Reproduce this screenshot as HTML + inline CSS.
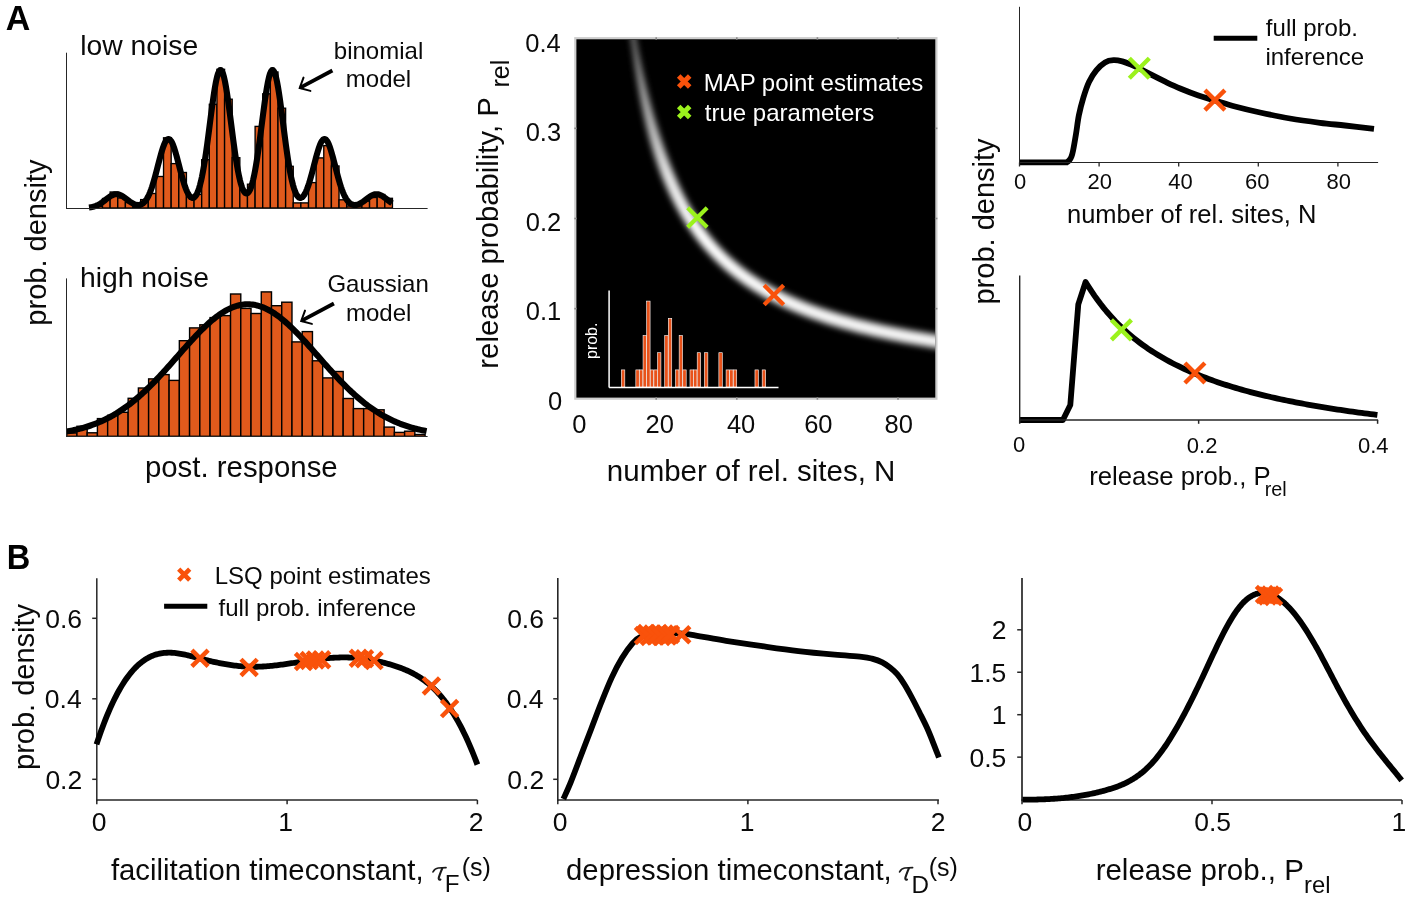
<!DOCTYPE html>
<html><head><meta charset="utf-8"><style>html,body{margin:0;padding:0;background:#fff;overflow:hidden}svg{display:block;will-change:transform}text{font-family:"Liberation Sans",sans-serif}</style></head>
<body><svg width="1411" height="899" viewBox="0 0 1411 899" font-family='"Liberation Sans", sans-serif'><defs><filter id="blur" x="-50%" y="-50%" width="200%" height="200%"><feGaussianBlur stdDeviation="3.4"/></filter><clipPath id="hc"><rect x="576.4" y="39.900000000000006" width="358.90000000000003" height="357.6"/></clipPath></defs><rect width="1411" height="899" fill="#fff"/><text x="5.75" y="30.4" font-size="34" fill="#000" font-weight="bold" transform="translate(0,30.4) scale(1,1.04) translate(0,-30.4)">A</text>
<text x="6.72" y="568.6" font-size="32.6" fill="#000" font-weight="bold" transform="translate(0,568.6) scale(1,1.075) translate(0,-568.6)">B</text>
<rect x="94.87" y="206.5" width="7.63" height="1.5" fill="#E05A1C" stroke="#000" stroke-width="1"/>
<rect x="102.5" y="198.5" width="7.63" height="9.5" fill="#E05A1C" stroke="#000" stroke-width="1.35"/>
<rect x="110.13" y="192" width="7.63" height="16" fill="#E05A1C" stroke="#000" stroke-width="1.35"/>
<rect x="117.76" y="198" width="7.63" height="10" fill="#E05A1C" stroke="#000" stroke-width="1.35"/>
<rect x="125.39" y="202.5" width="7.63" height="5.5" fill="#E05A1C" stroke="#000" stroke-width="1.35"/>
<rect x="133.02" y="206.7" width="7.63" height="1.3" fill="#E05A1C" stroke="#000" stroke-width="1.35"/>
<rect x="140.65" y="199.6" width="7.63" height="8.4" fill="#E05A1C" stroke="#000" stroke-width="1.35"/>
<rect x="148.28" y="193.5" width="7.63" height="14.5" fill="#E05A1C" stroke="#000" stroke-width="1.35"/>
<rect x="155.91" y="176.5" width="7.63" height="31.5" fill="#E05A1C" stroke="#000" stroke-width="1.35"/>
<rect x="163.54" y="137.8" width="7.63" height="70.2" fill="#E05A1C" stroke="#000" stroke-width="1.35"/>
<rect x="171.17" y="163.6" width="7.63" height="44.4" fill="#E05A1C" stroke="#000" stroke-width="1.35"/>
<rect x="178.8" y="172.5" width="7.63" height="35.5" fill="#E05A1C" stroke="#000" stroke-width="1.35"/>
<rect x="186.43" y="195.2" width="7.63" height="12.8" fill="#E05A1C" stroke="#000" stroke-width="1.35"/>
<rect x="194.06" y="194.4" width="7.63" height="13.6" fill="#E05A1C" stroke="#000" stroke-width="1.35"/>
<rect x="201.69" y="159.7" width="7.63" height="48.3" fill="#E05A1C" stroke="#000" stroke-width="1.35"/>
<rect x="209.32" y="104.3" width="7.63" height="103.7" fill="#E05A1C" stroke="#000" stroke-width="1.35"/>
<rect x="216.95" y="69.3" width="7.63" height="138.7" fill="#E05A1C" stroke="#000" stroke-width="1.35"/>
<rect x="224.58" y="99.2" width="7.63" height="108.8" fill="#E05A1C" stroke="#000" stroke-width="1.35"/>
<rect x="232.21" y="157.7" width="7.63" height="50.3" fill="#E05A1C" stroke="#000" stroke-width="1.35"/>
<rect x="239.84" y="190.1" width="7.63" height="17.9" fill="#E05A1C" stroke="#000" stroke-width="1.35"/>
<rect x="247.47" y="184.2" width="7.63" height="23.8" fill="#E05A1C" stroke="#000" stroke-width="1.35"/>
<rect x="255.1" y="126.4" width="7.63" height="81.6" fill="#E05A1C" stroke="#000" stroke-width="1.35"/>
<rect x="262.73" y="93.8" width="7.63" height="114.2" fill="#E05A1C" stroke="#000" stroke-width="1.35"/>
<rect x="270.36" y="72" width="7.63" height="136" fill="#E05A1C" stroke="#000" stroke-width="1.35"/>
<rect x="277.99" y="108.2" width="7.63" height="99.8" fill="#E05A1C" stroke="#000" stroke-width="1.35"/>
<rect x="285.62" y="166.3" width="7.63" height="41.7" fill="#E05A1C" stroke="#000" stroke-width="1.35"/>
<rect x="293.25" y="202.9" width="7.63" height="5.1" fill="#E05A1C" stroke="#000" stroke-width="1.35"/>
<rect x="300.88" y="202.9" width="7.63" height="5.1" fill="#E05A1C" stroke="#000" stroke-width="1.35"/>
<rect x="308.51" y="182.6" width="7.63" height="25.4" fill="#E05A1C" stroke="#000" stroke-width="1.35"/>
<rect x="316.14" y="157.9" width="7.63" height="50.1" fill="#E05A1C" stroke="#000" stroke-width="1.35"/>
<rect x="323.77" y="145.6" width="7.63" height="62.4" fill="#E05A1C" stroke="#000" stroke-width="1.35"/>
<rect x="331.4" y="166" width="7.63" height="42" fill="#E05A1C" stroke="#000" stroke-width="1.35"/>
<rect x="339.03" y="199.8" width="7.63" height="8.2" fill="#E05A1C" stroke="#000" stroke-width="1.35"/>
<rect x="346.66" y="206" width="7.63" height="2" fill="#E05A1C" stroke="#000" stroke-width="1.35"/>
<rect x="354.29" y="206" width="7.63" height="2" fill="#E05A1C" stroke="#000" stroke-width="1.35"/>
<rect x="361.92" y="201.2" width="7.63" height="6.8" fill="#E05A1C" stroke="#000" stroke-width="1.35"/>
<rect x="369.55" y="197.5" width="7.63" height="10.5" fill="#E05A1C" stroke="#000" stroke-width="1.35"/>
<rect x="377.18" y="194.5" width="7.63" height="13.5" fill="#E05A1C" stroke="#000" stroke-width="1.35"/>
<rect x="384.81" y="198.3" width="7.63" height="9.7" fill="#E05A1C" stroke="#000" stroke-width="1.35"/>
<polyline points="89,207.49 90,207.36 91,207.19 92,207 93,206.76 94,206.49 95,206.17 96,205.8 97,205.38 98,204.9 99,204.38 100,203.8 101,203.17 102,202.49 103,201.77 104,201.03 105,200.25 106,199.47 107,198.7 108,197.93 109,197.21 110,196.53 111,195.91 112,195.37 113,194.92 114,194.57 115,194.33 116,194.21 117,194.21 118,194.33 119,194.57 120,194.92 121,195.36 122,195.9 123,196.52 124,197.19 125,197.92 126,198.67 127,199.44 128,200.2 129,200.95 130,201.67 131,202.34 132,202.96 133,203.52 134,204 135,204.39 136,204.69 137,204.89 138,204.98 139,204.94 140,204.78 141,204.46 142,203.98 143,203.33 144,202.48 145,201.42 146,200.13 147,198.6 148,196.81 149,194.75 150,192.42 151,189.81 152,186.93 153,183.79 154,180.42 155,176.85 156,173.11 157,169.26 158,165.36 159,161.47 160,157.67 161,154.03 162,150.62 163,147.54 164,144.84 165,142.59 166,140.86 167,139.67 168,139.07 169,139.07 170,139.67 171,140.85 172,142.59 173,144.83 174,147.53 175,150.61 176,154 177,157.64 178,161.42 179,165.29 180,169.17 181,172.97 182,176.66 183,180.16 184,183.43 185,186.43 186,189.12 187,191.5 188,193.52 189,195.18 190,196.46 191,197.35 192,197.84 193,197.91 194,197.54 195,196.72 196,195.43 197,193.64 198,191.33 199,188.48 200,185.07 201,181.09 202,176.53 203,171.39 204,165.69 205,159.47 206,152.76 207,145.63 208,138.18 209,130.49 210,122.7 211,114.93 212,107.32 213,100.05 214,93.24 215,87.07 216,81.68 217,77.19 218,73.71 219,71.35 220,70.15 221,70.15 222,71.35 223,73.71 224,77.18 225,81.67 226,87.07 227,93.24 228,100.03 229,107.31 230,114.9 231,122.66 232,130.44 233,138.1 234,145.53 235,152.61 236,159.26 237,165.41 238,171.01 239,176.02 240,180.41 241,184.17 242,187.3 243,189.79 244,191.65 245,192.89 246,193.51 247,193.51 248,192.89 249,191.65 250,189.79 251,187.3 252,184.17 253,180.41 254,176.02 255,171.01 256,165.41 257,159.26 258,152.61 259,145.53 260,138.1 261,130.44 262,122.66 263,114.9 264,107.31 265,100.03 266,93.24 267,87.07 268,81.67 269,77.18 270,73.71 271,71.35 272,70.15 273,70.15 274,71.35 275,73.71 276,77.19 277,81.68 278,87.07 279,93.24 280,100.05 281,107.32 282,114.93 283,122.7 284,130.49 285,138.18 286,145.63 287,152.76 288,159.47 289,165.69 290,171.39 291,176.53 292,181.09 293,185.07 294,188.48 295,191.33 296,193.64 297,195.43 298,196.72 299,197.54 300,197.91 301,197.84 302,197.35 303,196.46 304,195.18 305,193.52 306,191.5 307,189.12 308,186.43 309,183.43 310,180.16 311,176.66 312,172.97 313,169.17 314,165.29 315,161.42 316,157.64 317,154 318,150.61 319,147.53 320,144.83 321,142.59 322,140.85 323,139.67 324,139.07 325,139.07 326,139.67 327,140.86 328,142.59 329,144.84 330,147.54 331,150.62 332,154.03 333,157.67 334,161.47 335,165.36 336,169.26 337,173.11 338,176.85 339,180.42 340,183.79 341,186.93 342,189.81 343,192.42 344,194.75 345,196.81 346,198.6 347,200.13 348,201.42 349,202.48 350,203.33 351,203.98 352,204.46 353,204.78 354,204.94 355,204.98 356,204.89 357,204.69 358,204.39 359,204 360,203.52 361,202.96 362,202.34 363,201.67 364,200.95 365,200.2 366,199.44 367,198.67 368,197.92 369,197.19 370,196.52 371,195.9 372,195.36 373,194.92 374,194.57 375,194.33 376,194.21 377,194.21 378,194.33 379,194.57 380,194.92 381,195.37 382,195.91 383,196.53 384,197.21 385,197.93 386,198.7 387,199.47 388,200.25 389,201.03 390,201.77 391,202.49 392,203.17" fill="none" stroke="#000" stroke-width="6.1" stroke-linejoin="round"/>
<line x1="66.5" y1="52.7" x2="66.5" y2="209" stroke="#262626" stroke-width="1.05"/>
<line x1="66" y1="208.5" x2="427.6" y2="208.5" stroke="#262626" stroke-width="1.05"/>
<text x="80.29" y="55.3" font-size="28.3" fill="#0a0a0a">low noise</text>
<text x="333.84" y="59.1" font-size="24" fill="#0a0a0a">binomial</text>
<text x="345.82" y="87.4" font-size="24" fill="#0a0a0a">model</text>
<line x1="332.4" y1="70.5" x2="300.3" y2="87.7" stroke="#000" stroke-width="3.8"/>
<path d="M303.5,77.6 L299.7,88 L310.4,90.9" fill="none" stroke="#000" stroke-width="2" stroke-linecap="round" stroke-linejoin="miter"/>
<rect x="66.7" y="433" width="10.24" height="3.3" fill="#E05A1C" stroke="#000" stroke-width="1.4"/>
<rect x="76.94" y="426.3" width="10.24" height="10" fill="#E05A1C" stroke="#000" stroke-width="1.4"/>
<rect x="87.18" y="432.8" width="10.24" height="3.5" fill="#E05A1C" stroke="#000" stroke-width="1.4"/>
<rect x="97.42" y="418.6" width="10.24" height="17.7" fill="#E05A1C" stroke="#000" stroke-width="1.4"/>
<rect x="107.66" y="415.3" width="10.24" height="21" fill="#E05A1C" stroke="#000" stroke-width="1.4"/>
<rect x="117.9" y="412.3" width="10.24" height="24" fill="#E05A1C" stroke="#000" stroke-width="1.4"/>
<rect x="128.14" y="398.3" width="10.24" height="38" fill="#E05A1C" stroke="#000" stroke-width="1.4"/>
<rect x="138.38" y="388" width="10.24" height="48.3" fill="#E05A1C" stroke="#000" stroke-width="1.4"/>
<rect x="148.62" y="378.9" width="10.24" height="57.4" fill="#E05A1C" stroke="#000" stroke-width="1.4"/>
<rect x="158.86" y="374.6" width="10.24" height="61.7" fill="#E05A1C" stroke="#000" stroke-width="1.4"/>
<rect x="169.1" y="380.4" width="10.24" height="55.9" fill="#E05A1C" stroke="#000" stroke-width="1.4"/>
<rect x="179.34" y="340.7" width="10.24" height="95.6" fill="#E05A1C" stroke="#000" stroke-width="1.4"/>
<rect x="189.58" y="327.9" width="10.24" height="108.4" fill="#E05A1C" stroke="#000" stroke-width="1.4"/>
<rect x="199.82" y="324.8" width="10.24" height="111.5" fill="#E05A1C" stroke="#000" stroke-width="1.4"/>
<rect x="210.06" y="317.6" width="10.24" height="118.7" fill="#E05A1C" stroke="#000" stroke-width="1.4"/>
<rect x="220.3" y="315.6" width="10.24" height="120.7" fill="#E05A1C" stroke="#000" stroke-width="1.4"/>
<rect x="230.54" y="294" width="10.24" height="142.3" fill="#E05A1C" stroke="#000" stroke-width="1.4"/>
<rect x="240.78" y="308.4" width="10.24" height="127.9" fill="#E05A1C" stroke="#000" stroke-width="1.4"/>
<rect x="251.02" y="313.5" width="10.24" height="122.8" fill="#E05A1C" stroke="#000" stroke-width="1.4"/>
<rect x="261.26" y="291.9" width="10.24" height="144.4" fill="#E05A1C" stroke="#000" stroke-width="1.4"/>
<rect x="271.5" y="305.7" width="10.24" height="130.6" fill="#E05A1C" stroke="#000" stroke-width="1.4"/>
<rect x="281.74" y="302.2" width="10.24" height="134.1" fill="#E05A1C" stroke="#000" stroke-width="1.4"/>
<rect x="291.98" y="341.9" width="10.24" height="94.4" fill="#E05A1C" stroke="#000" stroke-width="1.4"/>
<rect x="302.22" y="331.6" width="10.24" height="104.7" fill="#E05A1C" stroke="#000" stroke-width="1.4"/>
<rect x="312.46" y="360.8" width="10.24" height="75.5" fill="#E05A1C" stroke="#000" stroke-width="1.4"/>
<rect x="322.7" y="377.9" width="10.24" height="58.4" fill="#E05A1C" stroke="#000" stroke-width="1.4"/>
<rect x="332.94" y="371.5" width="10.24" height="64.8" fill="#E05A1C" stroke="#000" stroke-width="1.4"/>
<rect x="343.18" y="398.5" width="10.24" height="37.8" fill="#E05A1C" stroke="#000" stroke-width="1.4"/>
<rect x="353.42" y="408.6" width="10.24" height="27.7" fill="#E05A1C" stroke="#000" stroke-width="1.4"/>
<rect x="363.66" y="408.6" width="10.24" height="27.7" fill="#E05A1C" stroke="#000" stroke-width="1.4"/>
<rect x="373.9" y="409.8" width="10.24" height="26.5" fill="#E05A1C" stroke="#000" stroke-width="1.4"/>
<rect x="384.14" y="427.1" width="10.24" height="9.2" fill="#E05A1C" stroke="#000" stroke-width="1.4"/>
<rect x="394.38" y="432.4" width="10.24" height="3.9" fill="#E05A1C" stroke="#000" stroke-width="1.4"/>
<rect x="404.62" y="431.2" width="10.24" height="5.1" fill="#E05A1C" stroke="#000" stroke-width="1.4"/>
<rect x="414.86" y="434.5" width="10.24" height="1.8" fill="#E05A1C" stroke="#000" stroke-width="1.4"/>
<polyline points="66.6,431.55 68.1,431.29 69.6,431.01 71.1,430.71 72.6,430.41 74.1,430.09 75.6,429.75 77.1,429.4 78.6,429.03 80.1,428.65 81.6,428.26 83.1,427.84 84.6,427.41 86.1,426.96 87.6,426.49 89.1,426 90.6,425.5 92.1,424.97 93.6,424.42 95.1,423.86 96.6,423.27 98.1,422.66 99.6,422.03 101.1,421.38 102.6,420.7 104.1,420 105.6,419.27 107.1,418.53 108.6,417.76 110.1,416.96 111.6,416.14 113.1,415.29 114.6,414.42 116.1,413.52 117.6,412.59 119.1,411.64 120.6,410.66 122.1,409.66 123.6,408.63 125.1,407.57 126.6,406.49 128.1,405.38 129.6,404.24 131.1,403.07 132.6,401.88 134.1,400.66 135.6,399.42 137.1,398.15 138.6,396.85 140.1,395.53 141.6,394.18 143.1,392.81 144.6,391.42 146.1,390 147.6,388.55 149.1,387.09 150.6,385.6 152.1,384.1 153.6,382.57 155.1,381.02 156.6,379.45 158.1,377.87 159.6,376.27 161.1,374.65 162.6,373.02 164.1,371.38 165.6,369.72 167.1,368.05 168.6,366.37 170.1,364.69 171.6,362.99 173.1,361.29 174.6,359.59 176.1,357.88 177.6,356.17 179.1,354.46 180.6,352.75 182.1,351.05 183.6,349.35 185.1,347.66 186.6,345.97 188.1,344.3 189.6,342.64 191.1,340.99 192.6,339.35 194.1,337.73 195.6,336.14 197.1,334.56 198.6,333 200.1,331.47 201.6,329.96 203.1,328.48 204.6,327.04 206.1,325.62 207.6,324.23 209.1,322.88 210.6,321.56 212.1,320.29 213.6,319.05 215.1,317.85 216.6,316.69 218.1,315.58 219.6,314.52 221.1,313.5 222.6,312.52 224.1,311.6 225.6,310.73 227.1,309.91 228.6,309.14 230.1,308.42 231.6,307.76 233.1,307.16 234.6,306.61 236.1,306.12 237.6,305.68 239.1,305.31 240.6,304.99 242.1,304.73 243.6,304.54 245.1,304.4 246.6,304.32 248.1,304.3 249.6,304.34 251.1,304.45 252.6,304.61 254.1,304.83 255.6,305.11 257.1,305.45 258.6,305.85 260.1,306.31 261.6,306.82 263.1,307.39 264.6,308.02 266.1,308.7 267.6,309.44 269.1,310.23 270.6,311.07 272.1,311.96 273.6,312.91 275.1,313.9 276.6,314.94 278.1,316.02 279.6,317.15 281.1,318.32 282.6,319.54 284.1,320.79 285.6,322.09 287.1,323.42 288.6,324.78 290.1,326.18 291.6,327.61 293.1,329.07 294.6,330.56 296.1,332.08 297.6,333.62 299.1,335.19 300.6,336.77 302.1,338.38 303.6,340 305.1,341.64 306.6,343.3 308.1,344.97 309.6,346.65 311.1,348.33 312.6,350.03 314.1,351.73 315.6,353.44 317.1,355.14 318.6,356.85 320.1,358.56 321.6,360.27 323.1,361.97 324.6,363.67 326.1,365.36 327.6,367.04 329.1,368.72 330.6,370.38 332.1,372.04 333.6,373.68 335.1,375.3 336.6,376.91 338.1,378.51 339.6,380.08 341.1,381.64 342.6,383.18 344.1,384.7 345.6,386.2 347.1,387.68 348.6,389.13 350.1,390.57 351.6,391.98 353.1,393.36 354.6,394.73 356.1,396.06 357.6,397.37 359.1,398.66 360.6,399.92 362.1,401.15 363.6,402.36 365.1,403.54 366.6,404.7 368.1,405.82 369.6,406.92 371.1,408 372.6,409.04 374.1,410.06 375.6,411.06 377.1,412.03 378.6,412.97 380.1,413.88 381.6,414.77 383.1,415.63 384.6,416.47 386.1,417.28 387.6,418.07 389.1,418.83 390.6,419.57 392.1,420.28 393.6,420.97 395.1,421.64 396.6,422.28 398.1,422.91 399.6,423.51 401.1,424.09 402.6,424.65 404.1,425.18 405.6,425.7 407.1,426.2 408.6,426.68 410.1,427.14 411.6,427.58 413.1,428.01 414.6,428.42 416.1,428.81 417.6,429.18 419.1,429.54 420.6,429.89 422.1,430.22 423.6,430.53 425.1,430.83 426.6,431.12" fill="none" stroke="#000" stroke-width="6.1" stroke-linejoin="round"/>
<line x1="66.5" y1="278.4" x2="66.5" y2="437" stroke="#262626" stroke-width="1.05"/>
<line x1="66" y1="436.5" x2="427.6" y2="436.5" stroke="#262626" stroke-width="1.05"/>
<text x="79.94" y="286.8" font-size="28.3" fill="#0a0a0a">high noise</text>
<text x="327.38" y="292.1" font-size="24" fill="#0a0a0a">Gaussian</text>
<text x="346.02" y="321.3" font-size="24" fill="#0a0a0a">model</text>
<line x1="333.9" y1="303.5" x2="301.8" y2="320.7" stroke="#000" stroke-width="3.8"/>
<path d="M305,310.6 L301.2,321 L311.9,323.9" fill="none" stroke="#000" stroke-width="2" stroke-linecap="round" stroke-linejoin="miter"/>
<text transform="translate(45.6,325.63) rotate(-90)" font-size="29" fill="#0a0a0a">prob. density</text>
<text x="144.91" y="476.5" font-size="29.4" fill="#0a0a0a">post. response</text>
<rect x="575.3" y="38.2" width="361.1" height="360.5" fill="#000" stroke="#cdcdcd" stroke-width="2.2"/>
<g clip-path="url(#hc)"><g filter="url(#blur)"><line x1="632.5" y1="32.63" x2="632.95" y2="35.57" stroke="rgb(128,128,128)" stroke-width="4.58" stroke-linecap="round"/><line x1="632.95" y1="35.57" x2="633.41" y2="38.51" stroke="rgb(128,128,128)" stroke-width="4.64" stroke-linecap="round"/><line x1="633.41" y1="38.51" x2="633.87" y2="41.45" stroke="rgb(129,129,129)" stroke-width="4.7" stroke-linecap="round"/><line x1="633.87" y1="41.45" x2="634.34" y2="44.39" stroke="rgb(129,129,129)" stroke-width="4.76" stroke-linecap="round"/><line x1="634.34" y1="44.39" x2="634.82" y2="47.32" stroke="rgb(130,130,130)" stroke-width="4.82" stroke-linecap="round"/><line x1="634.82" y1="47.32" x2="635.31" y2="50.26" stroke="rgb(130,130,130)" stroke-width="4.88" stroke-linecap="round"/><line x1="635.31" y1="50.26" x2="635.8" y2="53.19" stroke="rgb(131,131,131)" stroke-width="5.02" stroke-linecap="round"/><line x1="635.8" y1="53.19" x2="636.31" y2="56.12" stroke="rgb(133,133,133)" stroke-width="5.24" stroke-linecap="round"/><line x1="636.31" y1="56.12" x2="636.82" y2="59.05" stroke="rgb(135,135,135)" stroke-width="5.45" stroke-linecap="round"/><line x1="636.82" y1="59.05" x2="637.34" y2="61.98" stroke="rgb(136,136,136)" stroke-width="5.66" stroke-linecap="round"/><line x1="637.34" y1="61.98" x2="637.87" y2="64.91" stroke="rgb(138,138,138)" stroke-width="5.87" stroke-linecap="round"/><line x1="637.87" y1="64.91" x2="638.41" y2="67.84" stroke="rgb(140,140,140)" stroke-width="6.08" stroke-linecap="round"/><line x1="638.41" y1="67.84" x2="638.96" y2="70.76" stroke="rgb(142,142,142)" stroke-width="6.29" stroke-linecap="round"/><line x1="638.96" y1="70.76" x2="639.51" y2="73.68" stroke="rgb(144,144,144)" stroke-width="6.5" stroke-linecap="round"/><line x1="639.51" y1="73.68" x2="640.08" y2="76.6" stroke="rgb(145,145,145)" stroke-width="6.71" stroke-linecap="round"/><line x1="640.08" y1="76.6" x2="640.66" y2="79.52" stroke="rgb(147,147,147)" stroke-width="6.92" stroke-linecap="round"/><line x1="640.66" y1="79.52" x2="641.25" y2="82.43" stroke="rgb(149,149,149)" stroke-width="7.13" stroke-linecap="round"/><line x1="641.25" y1="82.43" x2="641.84" y2="85.35" stroke="rgb(151,151,151)" stroke-width="7.34" stroke-linecap="round"/><line x1="641.84" y1="85.35" x2="642.45" y2="88.26" stroke="rgb(153,153,153)" stroke-width="7.55" stroke-linecap="round"/><line x1="642.45" y1="88.26" x2="643.07" y2="91.16" stroke="rgb(154,154,154)" stroke-width="7.76" stroke-linecap="round"/><line x1="643.07" y1="91.16" x2="643.7" y2="94.07" stroke="rgb(156,156,156)" stroke-width="7.97" stroke-linecap="round"/><line x1="643.7" y1="94.07" x2="644.35" y2="96.97" stroke="rgb(158,158,158)" stroke-width="8.18" stroke-linecap="round"/><line x1="644.35" y1="96.97" x2="645" y2="99.87" stroke="rgb(160,160,160)" stroke-width="8.39" stroke-linecap="round"/><line x1="645" y1="99.87" x2="645.67" y2="102.77" stroke="rgb(162,162,162)" stroke-width="8.58" stroke-linecap="round"/><line x1="645.67" y1="102.77" x2="646.34" y2="105.66" stroke="rgb(164,164,164)" stroke-width="8.75" stroke-linecap="round"/><line x1="646.34" y1="105.66" x2="647.04" y2="108.55" stroke="rgb(166,166,166)" stroke-width="8.93" stroke-linecap="round"/><line x1="647.04" y1="108.55" x2="647.74" y2="111.44" stroke="rgb(168,168,168)" stroke-width="9.1" stroke-linecap="round"/><line x1="647.74" y1="111.44" x2="648.46" y2="114.32" stroke="rgb(170,170,170)" stroke-width="9.27" stroke-linecap="round"/><line x1="648.46" y1="114.32" x2="649.19" y2="117.2" stroke="rgb(172,172,172)" stroke-width="9.45" stroke-linecap="round"/><line x1="649.19" y1="117.2" x2="649.94" y2="120.08" stroke="rgb(174,174,174)" stroke-width="9.62" stroke-linecap="round"/><line x1="649.94" y1="120.08" x2="650.7" y2="122.95" stroke="rgb(176,176,176)" stroke-width="9.79" stroke-linecap="round"/><line x1="650.7" y1="122.95" x2="651.48" y2="125.82" stroke="rgb(178,178,178)" stroke-width="9.96" stroke-linecap="round"/><line x1="651.48" y1="125.82" x2="652.27" y2="128.68" stroke="rgb(180,180,180)" stroke-width="10.13" stroke-linecap="round"/><line x1="652.27" y1="128.68" x2="653.07" y2="131.54" stroke="rgb(182,182,182)" stroke-width="10.31" stroke-linecap="round"/><line x1="653.07" y1="131.54" x2="653.9" y2="134.39" stroke="rgb(184,184,184)" stroke-width="10.48" stroke-linecap="round"/><line x1="653.9" y1="134.39" x2="654.74" y2="137.24" stroke="rgb(186,186,186)" stroke-width="10.65" stroke-linecap="round"/><line x1="654.74" y1="137.24" x2="655.59" y2="140.08" stroke="rgb(188,188,188)" stroke-width="10.82" stroke-linecap="round"/><line x1="655.59" y1="140.08" x2="656.47" y2="142.92" stroke="rgb(190,190,190)" stroke-width="10.95" stroke-linecap="round"/><line x1="656.47" y1="142.92" x2="657.36" y2="145.76" stroke="rgb(193,193,193)" stroke-width="11.04" stroke-linecap="round"/><line x1="657.36" y1="145.76" x2="658.27" y2="148.58" stroke="rgb(196,196,196)" stroke-width="11.13" stroke-linecap="round"/><line x1="658.27" y1="148.58" x2="659.2" y2="151.4" stroke="rgb(199,199,199)" stroke-width="11.22" stroke-linecap="round"/><line x1="659.2" y1="151.4" x2="660.15" y2="154.22" stroke="rgb(202,202,202)" stroke-width="11.3" stroke-linecap="round"/><line x1="660.15" y1="154.22" x2="661.11" y2="157.02" stroke="rgb(204,204,204)" stroke-width="11.39" stroke-linecap="round"/><line x1="661.11" y1="157.02" x2="662.1" y2="159.82" stroke="rgb(207,207,207)" stroke-width="11.48" stroke-linecap="round"/><line x1="662.1" y1="159.82" x2="663.11" y2="162.61" stroke="rgb(210,210,210)" stroke-width="11.57" stroke-linecap="round"/><line x1="663.11" y1="162.61" x2="664.14" y2="165.4" stroke="rgb(213,213,213)" stroke-width="11.66" stroke-linecap="round"/><line x1="664.14" y1="165.4" x2="665.19" y2="168.17" stroke="rgb(216,216,216)" stroke-width="11.75" stroke-linecap="round"/><line x1="665.19" y1="168.17" x2="666.27" y2="170.94" stroke="rgb(218,218,218)" stroke-width="11.83" stroke-linecap="round"/><line x1="666.27" y1="170.94" x2="667.37" y2="173.7" stroke="rgb(221,221,221)" stroke-width="11.92" stroke-linecap="round"/><line x1="667.37" y1="173.7" x2="668.49" y2="176.45" stroke="rgb(224,224,224)" stroke-width="12.01" stroke-linecap="round"/><line x1="668.49" y1="176.45" x2="669.63" y2="179.19" stroke="rgb(227,227,227)" stroke-width="12.09" stroke-linecap="round"/><line x1="669.63" y1="179.19" x2="670.8" y2="181.92" stroke="rgb(228,228,228)" stroke-width="12.11" stroke-linecap="round"/><line x1="670.8" y1="181.92" x2="672" y2="184.63" stroke="rgb(229,229,229)" stroke-width="12.12" stroke-linecap="round"/><line x1="672" y1="184.63" x2="673.22" y2="187.34" stroke="rgb(231,231,231)" stroke-width="12.13" stroke-linecap="round"/><line x1="673.22" y1="187.34" x2="674.46" y2="190.03" stroke="rgb(232,232,232)" stroke-width="12.13" stroke-linecap="round"/><line x1="674.46" y1="190.03" x2="675.73" y2="192.71" stroke="rgb(233,233,233)" stroke-width="12.14" stroke-linecap="round"/><line x1="675.73" y1="192.71" x2="677.04" y2="195.38" stroke="rgb(234,234,234)" stroke-width="12.15" stroke-linecap="round"/><line x1="677.04" y1="195.38" x2="678.36" y2="198.04" stroke="rgb(235,235,235)" stroke-width="12.16" stroke-linecap="round"/><line x1="678.36" y1="198.04" x2="679.72" y2="200.68" stroke="rgb(237,237,237)" stroke-width="12.17" stroke-linecap="round"/><line x1="679.72" y1="200.68" x2="681.11" y2="203.3" stroke="rgb(238,238,238)" stroke-width="12.18" stroke-linecap="round"/><line x1="681.11" y1="203.3" x2="682.52" y2="205.91" stroke="rgb(239,239,239)" stroke-width="12.19" stroke-linecap="round"/><line x1="682.52" y1="205.91" x2="683.96" y2="208.51" stroke="rgb(240,240,240)" stroke-width="12.19" stroke-linecap="round"/><line x1="683.96" y1="208.51" x2="685.44" y2="211.08" stroke="rgb(241,241,241)" stroke-width="12.2" stroke-linecap="round"/><line x1="685.44" y1="211.08" x2="686.95" y2="213.64" stroke="rgb(242,242,242)" stroke-width="12.21" stroke-linecap="round"/><line x1="686.95" y1="213.64" x2="688.48" y2="216.18" stroke="rgb(244,244,244)" stroke-width="12.22" stroke-linecap="round"/><line x1="688.48" y1="216.18" x2="690.05" y2="218.7" stroke="rgb(245,245,245)" stroke-width="12.23" stroke-linecap="round"/><line x1="690.05" y1="218.7" x2="691.65" y2="221.21" stroke="rgb(246,246,246)" stroke-width="12.24" stroke-linecap="round"/><line x1="691.65" y1="221.21" x2="693.28" y2="223.69" stroke="rgb(247,247,247)" stroke-width="12.24" stroke-linecap="round"/><line x1="693.28" y1="223.69" x2="694.95" y2="226.15" stroke="rgb(248,248,248)" stroke-width="12.25" stroke-linecap="round"/><line x1="694.95" y1="226.15" x2="696.65" y2="228.59" stroke="rgb(249,249,249)" stroke-width="12.26" stroke-linecap="round"/><line x1="696.65" y1="228.59" x2="698.38" y2="231" stroke="rgb(250,250,250)" stroke-width="12.27" stroke-linecap="round"/><line x1="698.38" y1="231" x2="700.14" y2="233.39" stroke="rgb(251,251,251)" stroke-width="12.27" stroke-linecap="round"/><line x1="700.14" y1="233.39" x2="701.94" y2="235.76" stroke="rgb(253,253,253)" stroke-width="12.28" stroke-linecap="round"/><line x1="701.94" y1="235.76" x2="703.77" y2="238.1" stroke="rgb(254,254,254)" stroke-width="12.29" stroke-linecap="round"/><line x1="703.77" y1="238.1" x2="705.64" y2="240.42" stroke="rgb(255,255,255)" stroke-width="12.3" stroke-linecap="round"/><line x1="705.64" y1="240.42" x2="707.54" y2="242.71" stroke="rgb(255,255,255)" stroke-width="12.31" stroke-linecap="round"/><line x1="707.54" y1="242.71" x2="709.47" y2="244.97" stroke="rgb(255,255,255)" stroke-width="12.33" stroke-linecap="round"/><line x1="709.47" y1="244.97" x2="711.43" y2="247.2" stroke="rgb(254,254,254)" stroke-width="12.34" stroke-linecap="round"/><line x1="711.43" y1="247.2" x2="713.43" y2="249.41" stroke="rgb(254,254,254)" stroke-width="12.36" stroke-linecap="round"/><line x1="713.43" y1="249.41" x2="715.46" y2="251.58" stroke="rgb(254,254,254)" stroke-width="12.38" stroke-linecap="round"/><line x1="715.46" y1="251.58" x2="717.52" y2="253.73" stroke="rgb(254,254,254)" stroke-width="12.39" stroke-linecap="round"/><line x1="717.52" y1="253.73" x2="719.62" y2="255.85" stroke="rgb(253,253,253)" stroke-width="12.41" stroke-linecap="round"/><line x1="719.62" y1="255.85" x2="721.74" y2="257.93" stroke="rgb(253,253,253)" stroke-width="12.42" stroke-linecap="round"/><line x1="721.74" y1="257.93" x2="723.9" y2="259.99" stroke="rgb(253,253,253)" stroke-width="12.44" stroke-linecap="round"/><line x1="723.9" y1="259.99" x2="726.09" y2="262.01" stroke="rgb(253,253,253)" stroke-width="12.45" stroke-linecap="round"/><line x1="726.09" y1="262.01" x2="728.3" y2="264" stroke="rgb(252,252,252)" stroke-width="12.47" stroke-linecap="round"/><line x1="728.3" y1="264" x2="730.55" y2="265.96" stroke="rgb(252,252,252)" stroke-width="12.48" stroke-linecap="round"/><line x1="730.55" y1="265.96" x2="732.83" y2="267.89" stroke="rgb(252,252,252)" stroke-width="12.5" stroke-linecap="round"/><line x1="732.83" y1="267.89" x2="735.13" y2="269.78" stroke="rgb(252,252,252)" stroke-width="12.51" stroke-linecap="round"/><line x1="735.13" y1="269.78" x2="737.46" y2="271.64" stroke="rgb(252,252,252)" stroke-width="12.52" stroke-linecap="round"/><line x1="737.46" y1="271.64" x2="739.82" y2="273.47" stroke="rgb(251,251,251)" stroke-width="12.54" stroke-linecap="round"/><line x1="739.82" y1="273.47" x2="742.21" y2="275.26" stroke="rgb(251,251,251)" stroke-width="12.55" stroke-linecap="round"/><line x1="742.21" y1="275.26" x2="744.62" y2="277.02" stroke="rgb(251,251,251)" stroke-width="12.56" stroke-linecap="round"/><line x1="744.62" y1="277.02" x2="747.05" y2="278.75" stroke="rgb(251,251,251)" stroke-width="12.57" stroke-linecap="round"/><line x1="747.05" y1="278.75" x2="749.51" y2="280.45" stroke="rgb(251,251,251)" stroke-width="12.59" stroke-linecap="round"/><line x1="749.51" y1="280.45" x2="751.99" y2="282.11" stroke="rgb(250,250,250)" stroke-width="12.6" stroke-linecap="round"/><line x1="751.99" y1="282.11" x2="754.49" y2="283.74" stroke="rgb(250,250,250)" stroke-width="12.61" stroke-linecap="round"/><line x1="754.49" y1="283.74" x2="757.01" y2="285.34" stroke="rgb(250,250,250)" stroke-width="12.62" stroke-linecap="round"/><line x1="757.01" y1="285.34" x2="759.56" y2="286.91" stroke="rgb(250,250,250)" stroke-width="12.63" stroke-linecap="round"/><line x1="759.56" y1="286.91" x2="762.12" y2="288.44" stroke="rgb(250,250,250)" stroke-width="12.65" stroke-linecap="round"/><line x1="762.12" y1="288.44" x2="764.71" y2="289.95" stroke="rgb(250,250,250)" stroke-width="12.66" stroke-linecap="round"/><line x1="764.71" y1="289.95" x2="767.31" y2="291.42" stroke="rgb(249,249,249)" stroke-width="12.67" stroke-linecap="round"/><line x1="767.31" y1="291.42" x2="769.93" y2="292.87" stroke="rgb(249,249,249)" stroke-width="12.68" stroke-linecap="round"/><line x1="769.93" y1="292.87" x2="772.56" y2="294.28" stroke="rgb(249,249,249)" stroke-width="12.69" stroke-linecap="round"/><line x1="772.56" y1="294.28" x2="775.21" y2="295.66" stroke="rgb(249,249,249)" stroke-width="12.7" stroke-linecap="round"/><line x1="775.21" y1="295.66" x2="777.88" y2="297.02" stroke="rgb(249,249,249)" stroke-width="12.71" stroke-linecap="round"/><line x1="777.88" y1="297.02" x2="780.56" y2="298.35" stroke="rgb(249,249,249)" stroke-width="12.72" stroke-linecap="round"/><line x1="780.56" y1="298.35" x2="783.26" y2="299.65" stroke="rgb(248,248,248)" stroke-width="12.73" stroke-linecap="round"/><line x1="783.26" y1="299.65" x2="785.97" y2="300.92" stroke="rgb(248,248,248)" stroke-width="12.74" stroke-linecap="round"/><line x1="785.97" y1="300.92" x2="788.69" y2="302.16" stroke="rgb(248,248,248)" stroke-width="12.75" stroke-linecap="round"/><line x1="788.69" y1="302.16" x2="791.42" y2="303.38" stroke="rgb(248,248,248)" stroke-width="12.75" stroke-linecap="round"/><line x1="791.42" y1="303.38" x2="794.17" y2="304.58" stroke="rgb(248,248,248)" stroke-width="12.76" stroke-linecap="round"/><line x1="794.17" y1="304.58" x2="796.92" y2="305.74" stroke="rgb(248,248,248)" stroke-width="12.77" stroke-linecap="round"/><line x1="796.92" y1="305.74" x2="799.69" y2="306.89" stroke="rgb(248,248,248)" stroke-width="12.78" stroke-linecap="round"/><line x1="799.69" y1="306.89" x2="802.47" y2="308.01" stroke="rgb(248,248,248)" stroke-width="12.79" stroke-linecap="round"/><line x1="802.47" y1="308.01" x2="805.26" y2="309.1" stroke="rgb(247,247,247)" stroke-width="12.8" stroke-linecap="round"/><line x1="805.26" y1="309.1" x2="808.05" y2="310.18" stroke="rgb(247,247,247)" stroke-width="12.8" stroke-linecap="round"/><line x1="808.05" y1="310.18" x2="810.86" y2="311.23" stroke="rgb(247,247,247)" stroke-width="12.81" stroke-linecap="round"/><line x1="810.86" y1="311.23" x2="813.67" y2="312.25" stroke="rgb(247,247,247)" stroke-width="12.82" stroke-linecap="round"/><line x1="813.67" y1="312.25" x2="816.49" y2="313.26" stroke="rgb(247,247,247)" stroke-width="12.82" stroke-linecap="round"/><line x1="816.49" y1="313.26" x2="819.32" y2="314.25" stroke="rgb(247,247,247)" stroke-width="12.83" stroke-linecap="round"/><line x1="819.32" y1="314.25" x2="822.16" y2="315.21" stroke="rgb(247,247,247)" stroke-width="12.84" stroke-linecap="round"/><line x1="822.16" y1="315.21" x2="825" y2="316.16" stroke="rgb(247,247,247)" stroke-width="12.84" stroke-linecap="round"/><line x1="825" y1="316.16" x2="827.85" y2="317.09" stroke="rgb(247,247,247)" stroke-width="12.85" stroke-linecap="round"/><line x1="827.85" y1="317.09" x2="830.71" y2="318" stroke="rgb(247,247,247)" stroke-width="12.86" stroke-linecap="round"/><line x1="830.71" y1="318" x2="833.57" y2="318.89" stroke="rgb(247,247,247)" stroke-width="12.86" stroke-linecap="round"/><line x1="833.57" y1="318.89" x2="836.44" y2="319.76" stroke="rgb(247,247,247)" stroke-width="12.87" stroke-linecap="round"/><line x1="836.44" y1="319.76" x2="839.31" y2="320.61" stroke="rgb(246,246,246)" stroke-width="12.87" stroke-linecap="round"/><line x1="839.31" y1="320.61" x2="842.19" y2="321.45" stroke="rgb(246,246,246)" stroke-width="12.88" stroke-linecap="round"/><line x1="842.19" y1="321.45" x2="845.07" y2="322.27" stroke="rgb(246,246,246)" stroke-width="12.88" stroke-linecap="round"/><line x1="845.07" y1="322.27" x2="847.96" y2="323.07" stroke="rgb(246,246,246)" stroke-width="12.89" stroke-linecap="round"/><line x1="847.96" y1="323.07" x2="850.85" y2="323.86" stroke="rgb(246,246,246)" stroke-width="12.89" stroke-linecap="round"/><line x1="850.85" y1="323.86" x2="853.75" y2="324.63" stroke="rgb(246,246,246)" stroke-width="12.9" stroke-linecap="round"/><line x1="853.75" y1="324.63" x2="856.65" y2="325.39" stroke="rgb(246,246,246)" stroke-width="12.9" stroke-linecap="round"/><line x1="856.65" y1="325.39" x2="859.55" y2="326.14" stroke="rgb(246,246,246)" stroke-width="12.91" stroke-linecap="round"/><line x1="859.55" y1="326.14" x2="862.46" y2="326.87" stroke="rgb(246,246,246)" stroke-width="12.91" stroke-linecap="round"/><line x1="862.46" y1="326.87" x2="865.37" y2="327.58" stroke="rgb(246,246,246)" stroke-width="12.92" stroke-linecap="round"/><line x1="865.37" y1="327.58" x2="868.29" y2="328.28" stroke="rgb(246,246,246)" stroke-width="12.92" stroke-linecap="round"/><line x1="868.29" y1="328.28" x2="871.21" y2="328.97" stroke="rgb(246,246,246)" stroke-width="12.93" stroke-linecap="round"/><line x1="871.21" y1="328.97" x2="874.13" y2="329.65" stroke="rgb(246,246,246)" stroke-width="12.93" stroke-linecap="round"/><line x1="874.13" y1="329.65" x2="877.05" y2="330.31" stroke="rgb(246,246,246)" stroke-width="12.94" stroke-linecap="round"/><line x1="877.05" y1="330.31" x2="879.98" y2="330.96" stroke="rgb(246,246,246)" stroke-width="12.94" stroke-linecap="round"/><line x1="879.98" y1="330.96" x2="882.91" y2="331.6" stroke="rgb(246,246,246)" stroke-width="12.94" stroke-linecap="round"/><line x1="882.91" y1="331.6" x2="885.84" y2="332.23" stroke="rgb(245,245,245)" stroke-width="12.95" stroke-linecap="round"/><line x1="885.84" y1="332.23" x2="888.78" y2="332.85" stroke="rgb(245,245,245)" stroke-width="12.95" stroke-linecap="round"/><line x1="888.78" y1="332.85" x2="891.71" y2="333.45" stroke="rgb(245,245,245)" stroke-width="12.96" stroke-linecap="round"/><line x1="891.71" y1="333.45" x2="894.65" y2="334.05" stroke="rgb(245,245,245)" stroke-width="12.96" stroke-linecap="round"/><line x1="894.65" y1="334.05" x2="897.59" y2="334.63" stroke="rgb(245,245,245)" stroke-width="12.96" stroke-linecap="round"/><line x1="897.59" y1="334.63" x2="900.54" y2="335.21" stroke="rgb(245,245,245)" stroke-width="12.97" stroke-linecap="round"/><line x1="900.54" y1="335.21" x2="903.48" y2="335.77" stroke="rgb(245,245,245)" stroke-width="12.97" stroke-linecap="round"/><line x1="903.48" y1="335.77" x2="906.43" y2="336.32" stroke="rgb(245,245,245)" stroke-width="12.97" stroke-linecap="round"/><line x1="906.43" y1="336.32" x2="909.38" y2="336.87" stroke="rgb(245,245,245)" stroke-width="12.98" stroke-linecap="round"/><line x1="909.38" y1="336.87" x2="912.33" y2="337.4" stroke="rgb(245,245,245)" stroke-width="12.98" stroke-linecap="round"/><line x1="912.33" y1="337.4" x2="915.28" y2="337.93" stroke="rgb(245,245,245)" stroke-width="12.98" stroke-linecap="round"/><line x1="915.28" y1="337.93" x2="918.24" y2="338.45" stroke="rgb(245,245,245)" stroke-width="12.99" stroke-linecap="round"/><line x1="918.24" y1="338.45" x2="921.19" y2="338.96" stroke="rgb(245,245,245)" stroke-width="12.99" stroke-linecap="round"/><line x1="921.19" y1="338.96" x2="924.15" y2="339.46" stroke="rgb(245,245,245)" stroke-width="12.99" stroke-linecap="round"/><line x1="924.15" y1="339.46" x2="927.11" y2="339.95" stroke="rgb(245,245,245)" stroke-width="13" stroke-linecap="round"/><line x1="927.11" y1="339.95" x2="930.07" y2="340.43" stroke="rgb(245,245,245)" stroke-width="13" stroke-linecap="round"/><line x1="930.07" y1="340.43" x2="933.03" y2="340.91" stroke="rgb(245,245,245)" stroke-width="13" stroke-linecap="round"/><line x1="933.03" y1="340.91" x2="935.99" y2="341.38" stroke="rgb(245,245,245)" stroke-width="13" stroke-linecap="round"/><line x1="935.99" y1="341.38" x2="938.96" y2="341.84" stroke="rgb(245,245,245)" stroke-width="13" stroke-linecap="round"/></g></g>
<line x1="656.2" y1="37.2" x2="656.2" y2="39.7" stroke="#8a8a8a" stroke-width="1.6"/>
<line x1="656.2" y1="397.2" x2="656.2" y2="399.7" stroke="#8a8a8a" stroke-width="1.6"/>
<line x1="736.8" y1="37.2" x2="736.8" y2="39.7" stroke="#8a8a8a" stroke-width="1.6"/>
<line x1="736.8" y1="397.2" x2="736.8" y2="399.7" stroke="#8a8a8a" stroke-width="1.6"/>
<line x1="817.4" y1="37.2" x2="817.4" y2="39.7" stroke="#8a8a8a" stroke-width="1.6"/>
<line x1="817.4" y1="397.2" x2="817.4" y2="399.7" stroke="#8a8a8a" stroke-width="1.6"/>
<line x1="898" y1="37.2" x2="898" y2="39.7" stroke="#8a8a8a" stroke-width="1.6"/>
<line x1="898" y1="397.2" x2="898" y2="399.7" stroke="#8a8a8a" stroke-width="1.6"/>
<line x1="574.3" y1="308.65" x2="576.8" y2="308.65" stroke="#8a8a8a" stroke-width="1.6"/>
<line x1="934.9" y1="308.65" x2="937.4" y2="308.65" stroke="#8a8a8a" stroke-width="1.6"/>
<line x1="574.3" y1="218.5" x2="576.8" y2="218.5" stroke="#8a8a8a" stroke-width="1.6"/>
<line x1="934.9" y1="218.5" x2="937.4" y2="218.5" stroke="#8a8a8a" stroke-width="1.6"/>
<line x1="574.3" y1="128.35" x2="576.8" y2="128.35" stroke="#8a8a8a" stroke-width="1.6"/>
<line x1="934.9" y1="128.35" x2="937.4" y2="128.35" stroke="#8a8a8a" stroke-width="1.6"/>
<rect x="621.4" y="369.9" width="3.41" height="17.2" fill="#E8521A" stroke="#fff" stroke-width="0.6"/>
<rect x="635.84" y="369.9" width="3.41" height="17.2" fill="#E8521A" stroke="#fff" stroke-width="0.6"/>
<rect x="639.45" y="369.9" width="3.41" height="17.2" fill="#E8521A" stroke="#fff" stroke-width="0.6"/>
<rect x="643.06" y="335.5" width="3.41" height="51.6" fill="#E8521A" stroke="#fff" stroke-width="0.6"/>
<rect x="646.67" y="301.1" width="3.41" height="86" fill="#E8521A" stroke="#fff" stroke-width="0.6"/>
<rect x="650.28" y="369.9" width="3.41" height="17.2" fill="#E8521A" stroke="#fff" stroke-width="0.6"/>
<rect x="653.89" y="369.9" width="3.41" height="17.2" fill="#E8521A" stroke="#fff" stroke-width="0.6"/>
<rect x="657.5" y="352.7" width="3.41" height="34.4" fill="#E8521A" stroke="#fff" stroke-width="0.6"/>
<rect x="664.72" y="335.5" width="3.41" height="51.6" fill="#E8521A" stroke="#fff" stroke-width="0.6"/>
<rect x="668.33" y="318.3" width="3.41" height="68.8" fill="#E8521A" stroke="#fff" stroke-width="0.6"/>
<rect x="675.55" y="369.9" width="3.41" height="17.2" fill="#E8521A" stroke="#fff" stroke-width="0.6"/>
<rect x="679.16" y="335.5" width="3.41" height="51.6" fill="#E8521A" stroke="#fff" stroke-width="0.6"/>
<rect x="682.77" y="369.9" width="3.41" height="17.2" fill="#E8521A" stroke="#fff" stroke-width="0.6"/>
<rect x="689.99" y="369.9" width="3.41" height="17.2" fill="#E8521A" stroke="#fff" stroke-width="0.6"/>
<rect x="693.6" y="369.9" width="3.41" height="17.2" fill="#E8521A" stroke="#fff" stroke-width="0.6"/>
<rect x="697.21" y="352.7" width="3.41" height="34.4" fill="#E8521A" stroke="#fff" stroke-width="0.6"/>
<rect x="704.43" y="352.7" width="3.41" height="34.4" fill="#E8521A" stroke="#fff" stroke-width="0.6"/>
<rect x="718.87" y="352.7" width="3.41" height="34.4" fill="#E8521A" stroke="#fff" stroke-width="0.6"/>
<rect x="726.09" y="369.9" width="3.41" height="17.2" fill="#E8521A" stroke="#fff" stroke-width="0.6"/>
<rect x="729.7" y="369.9" width="3.41" height="17.2" fill="#E8521A" stroke="#fff" stroke-width="0.6"/>
<rect x="733.31" y="369.9" width="3.41" height="17.2" fill="#E8521A" stroke="#fff" stroke-width="0.6"/>
<rect x="754.97" y="369.9" width="3.41" height="17.2" fill="#E8521A" stroke="#fff" stroke-width="0.6"/>
<rect x="762.19" y="369.9" width="3.41" height="17.2" fill="#E8521A" stroke="#fff" stroke-width="0.6"/>
<line x1="609.1" y1="290.5" x2="609.1" y2="387.6" stroke="#fff" stroke-width="1.5"/>
<line x1="609.1" y1="387.6" x2="778.5" y2="387.6" stroke="#fff" stroke-width="1.5"/>
<text transform="translate(596.8,359.02) rotate(-90)" font-size="16" fill="#fff">prob.</text>
<path d="M678.7,76L689.7,87M678.7,87L689.7,76" stroke="#F9520B" stroke-width="5" fill="none"/>
<path d="M678.7,106.5L689.7,117.5M678.7,117.5L689.7,106.5" stroke="#9BF21C" stroke-width="5" fill="none"/>
<text x="703.63" y="91" font-size="24" fill="#fff">MAP point estimates</text>
<text x="704.84" y="121.3" font-size="24" fill="#fff">true parameters</text>
<path d="M687.65,207.85L707.15,227.35M687.65,227.35L707.15,207.85" stroke="#9BF21C" stroke-width="4.2" fill="none"/>
<path d="M764.15,285.15L783.65,304.65M764.15,304.65L783.65,285.15" stroke="#F9520B" stroke-width="4.2" fill="none"/>
<text x="525.3" y="52" font-size="25.5" fill="#0a0a0a">0.4</text>
<text x="525.67" y="141.35" font-size="25.5" fill="#0a0a0a">0.3</text>
<text x="525.83" y="230.7" font-size="25.5" fill="#0a0a0a">0.2</text>
<text x="525.8" y="320.05" font-size="25.5" fill="#0a0a0a">0.1</text>
<text x="548.01" y="410.1" font-size="25.5" fill="#0a0a0a">0</text>
<text x="572.21" y="433.3" font-size="25.5" fill="#0a0a0a">0</text>
<text x="645.47" y="433.3" font-size="25.5" fill="#0a0a0a">20</text>
<text x="726.92" y="433.3" font-size="25.5" fill="#0a0a0a">40</text>
<text x="804.17" y="433.3" font-size="25.5" fill="#0a0a0a">60</text>
<text x="884.56" y="433.3" font-size="25.5" fill="#0a0a0a">80</text>
<text x="606.84" y="481.2" font-size="29.5" fill="#0a0a0a">number of rel. sites, N</text>
<text transform="translate(498.4,368.65) rotate(-90)" font-size="29.3" fill="#0a0a0a">release probability, P</text>
<text transform="translate(509.2,87.56) rotate(-90)" font-size="25" fill="#0a0a0a">rel</text>
<path d="M1019.8,162.4 C1026.83,162.4 1054.22,162.43 1062,162.4 C1069.78,162.37 1065.25,162.6 1066.5,162.2 C1067.75,161.8 1068.67,160.95 1069.5,160 C1070.33,159.05 1070.9,158.08 1071.5,156.5 C1072.1,154.92 1072.35,154.25 1073.1,150.5 C1073.85,146.75 1075.03,139.88 1076,134 C1076.97,128.12 1077.68,121.22 1078.9,115.2 C1080.12,109.18 1081.62,103.43 1083.3,97.9 C1084.98,92.37 1086.83,86.58 1089,82 C1091.17,77.42 1093.63,73.67 1096.3,70.4 C1098.97,67.13 1102.12,64.1 1105,62.4 C1107.88,60.7 1110.72,60.37 1113.6,60.2 C1116.48,60.03 1119.4,60.67 1122.3,61.4 C1125.2,62.13 1128.1,63.42 1131,64.6 C1133.9,65.78 1136.33,66.82 1139.7,68.5 C1143.07,70.18 1146.87,72.47 1151.2,74.7 C1155.53,76.93 1160.87,79.6 1165.7,81.9 C1170.53,84.2 1174.75,86.23 1180.2,88.5 C1185.65,90.77 1192.62,93.5 1198.4,95.5 C1204.18,97.5 1208.8,98.67 1214.9,100.5 C1221,102.33 1227.48,104.5 1235,106.5 C1242.52,108.5 1250.83,110.5 1260,112.5 C1269.17,114.5 1280,116.78 1290,118.5 C1300,120.22 1310.83,121.63 1320,122.8 C1329.17,123.97 1336,124.5 1345,125.5 C1354,126.5 1369.17,128.25 1374,128.8" fill="none" stroke="#000" stroke-width="5.8" stroke-linejoin="round"/>
<line x1="1019.5" y1="6.8" x2="1019.5" y2="163" stroke="#262626" stroke-width="1.05"/>
<line x1="1019" y1="162.5" x2="1378.1" y2="162.5" stroke="#262626" stroke-width="1.05"/>
<line x1="1019.5" y1="162.5" x2="1019.5" y2="166.5" stroke="#262626" stroke-width="1.3"/>
<line x1="1099.1" y1="162.5" x2="1099.1" y2="166.5" stroke="#262626" stroke-width="1.3"/>
<line x1="1178.7" y1="162.5" x2="1178.7" y2="166.5" stroke="#262626" stroke-width="1.3"/>
<line x1="1258.3" y1="162.5" x2="1258.3" y2="166.5" stroke="#262626" stroke-width="1.3"/>
<line x1="1337.9" y1="162.5" x2="1337.9" y2="166.5" stroke="#262626" stroke-width="1.3"/>
<text x="1014.08" y="189.2" font-size="22" fill="#0a0a0a">0</text>
<text x="1087.59" y="189.2" font-size="22" fill="#0a0a0a">20</text>
<text x="1168.34" y="189.2" font-size="22" fill="#0a0a0a">40</text>
<text x="1245.04" y="189.2" font-size="22" fill="#0a0a0a">60</text>
<text x="1326.47" y="189.2" font-size="22" fill="#0a0a0a">80</text>
<text x="1066.98" y="223.3" font-size="25.5" fill="#0a0a0a">number of rel. sites, N</text>
<line x1="1213.7" y1="38.3" x2="1257.3" y2="38.3" stroke="#000" stroke-width="5"/>
<text x="1265.86" y="36.1" font-size="24" fill="#0a0a0a">full prob.</text>
<text x="1265.39" y="64.5" font-size="24" fill="#0a0a0a">inference</text>
<path d="M1129.3,58.3L1149.3,78.3M1129.3,78.3L1149.3,58.3" stroke="#9BF21C" stroke-width="4.4" fill="none"/>
<path d="M1204.9,90.1L1224.9,110.1M1204.9,110.1L1224.9,90.1" stroke="#F9520B" stroke-width="4.4" fill="none"/>
<path d="M1019.8,420 L1062.9,420 L1070.3,405 L1078.3,304.3 L1085.6,282 L1088.6,286.7 L1091.6,291.38 L1094.6,295.81 L1097.6,300.03 L1100.6,304.03 L1103.6,307.85 L1106.6,311.49 L1109.6,314.96 L1112.6,318.28 L1115.6,321.46 L1118.6,324.5 L1121.6,327.41 L1124.6,330.2 L1127.6,332.88 L1130.6,335.46 L1133.6,337.94 L1136.6,340.32 L1139.6,342.62 L1142.6,344.83 L1145.6,346.96 L1148.6,349.02 L1151.6,351.01 L1154.6,352.93 L1157.6,354.78 L1160.6,356.58 L1163.6,358.32 L1166.6,360 L1169.6,361.63 L1172.6,363.21 L1175.6,364.74 L1178.6,366.22 L1181.6,367.66 L1184.6,369.06 L1187.6,370.42 L1190.6,371.75 L1193.6,373.03 L1196.6,374.28 L1199.6,375.5 L1202.6,376.68 L1205.6,377.83 L1208.6,378.95 L1211.6,380.05 L1214.6,381.11 L1217.6,382.15 L1220.6,383.17 L1223.6,384.16 L1226.6,385.12 L1229.6,386.06 L1232.6,386.98 L1235.6,387.88 L1238.6,388.76 L1241.6,389.62 L1244.6,390.46 L1247.6,391.27 L1250.6,392.08 L1253.6,392.86 L1256.6,393.63 L1259.6,394.38 L1262.6,395.12 L1265.6,395.84 L1268.6,396.54 L1271.6,397.23 L1274.6,397.91 L1277.6,398.57 L1280.6,399.22 L1283.6,399.86 L1286.6,400.48 L1289.6,401.1 L1292.6,401.7 L1295.6,402.29 L1298.6,402.87 L1301.6,403.44 L1304.6,403.99 L1307.6,404.54 L1310.6,405.08 L1313.6,405.61 L1316.6,406.13 L1319.6,406.64 L1322.6,407.14 L1325.6,407.63 L1328.6,408.11 L1331.6,408.59 L1334.6,409.06 L1337.6,409.52 L1340.6,409.97 L1343.6,410.41 L1346.6,410.85 L1349.6,411.28 L1352.6,411.7 L1355.6,412.12 L1358.6,412.53 L1361.6,412.94 L1364.6,413.33 L1367.6,413.72 L1370.6,414.11 L1373.6,414.49 L1376.6,414.86 L1377.4,414.96" fill="none" stroke="#000" stroke-width="5.8" stroke-linejoin="round"/>
<line x1="1019.7" y1="275.6" x2="1019.7" y2="420.7" stroke="#262626" stroke-width="1.4"/>
<line x1="1019" y1="420" x2="1378.1" y2="420" stroke="#262626" stroke-width="1.5"/>
<line x1="1019.7" y1="420" x2="1019.7" y2="423.8" stroke="#262626" stroke-width="1.5"/>
<line x1="1198.65" y1="420" x2="1198.65" y2="423.8" stroke="#262626" stroke-width="1.5"/>
<line x1="1377.6" y1="420" x2="1377.6" y2="423.8" stroke="#262626" stroke-width="1.5"/>
<text x="1012.98" y="452" font-size="22" fill="#0a0a0a">0</text>
<text x="1186.83" y="453.3" font-size="22" fill="#0a0a0a">0.2</text>
<text x="1357.9" y="453.3" font-size="22" fill="#0a0a0a">0.4</text>
<text x="1089.29" y="484.5" font-size="25.7" fill="#0a0a0a">release prob., P</text>
<text x="1264.79" y="496.1" font-size="19.8" fill="#0a0a0a">rel</text>
<path d="M1111.4,319.9L1131.4,339.9M1111.4,339.9L1131.4,319.9" stroke="#9BF21C" stroke-width="4.4" fill="none"/>
<path d="M1184.9,363L1204.9,383M1184.9,383L1204.9,363" stroke="#F9520B" stroke-width="4.4" fill="none"/>
<text transform="translate(994.4,304.53) rotate(-90)" font-size="29" fill="#0a0a0a">prob. density</text>
<line x1="96.8" y1="578.3" x2="96.8" y2="800.75" stroke="#262626" stroke-width="1.5"/>
<line x1="96.05" y1="800" x2="477.4" y2="800" stroke="#262626" stroke-width="1.6"/>
<line x1="92.2" y1="779.3" x2="96.8" y2="779.3" stroke="#262626" stroke-width="1.5"/>
<line x1="92.2" y1="698.8" x2="96.8" y2="698.8" stroke="#262626" stroke-width="1.5"/>
<line x1="92.2" y1="618.3" x2="96.8" y2="618.3" stroke="#262626" stroke-width="1.5"/>
<line x1="96.8" y1="800" x2="96.8" y2="804.3" stroke="#262626" stroke-width="1.5"/>
<line x1="287.1" y1="800" x2="287.1" y2="804.3" stroke="#262626" stroke-width="1.5"/>
<line x1="477.4" y1="800" x2="477.4" y2="804.3" stroke="#262626" stroke-width="1.5"/>
<text x="45.23" y="627.9" font-size="26.5" fill="#0a0a0a">0.6</text>
<text x="44.84" y="708.4" font-size="26.5" fill="#0a0a0a">0.4</text>
<text x="45.39" y="788.9" font-size="26.5" fill="#0a0a0a">0.2</text>
<text x="91.63" y="830.9" font-size="26.5" fill="#0a0a0a">0</text>
<text x="278.27" y="830.9" font-size="26.5" fill="#0a0a0a">1</text>
<text x="468.63" y="830.9" font-size="26.5" fill="#0a0a0a">2</text>
<path d="M96.5,744.3 L98,739.8 L99.5,735.44 L101,731.22 L102.5,727.13 L104,723.17 L105.5,719.35 L107,715.65 L108.5,712.08 L110,708.63 L111.5,705.31 L113,702.11 L114.5,699.03 L116,696.07 L117.5,693.22 L119,690.49 L120.5,687.87 L122,685.37 L123.5,682.98 L125,680.69 L126.5,678.51 L128,676.44 L129.5,674.47 L131,672.6 L132.5,670.83 L134,669.16 L135.5,667.58 L137,666.1 L138.5,664.71 L140,663.41 L141.5,662.2 L143,661.07 L144.5,660.03 L146,659.07 L147.5,658.18 L149,657.37 L150.5,656.63 L152,655.97 L153.5,655.37 L155,654.84 L156.5,654.37 L158,653.97 L159.5,653.63 L161,653.34 L162.5,653.11 L164,652.93 L165.5,652.81 L167,652.73 L168.5,652.7 L170,652.71 L171.5,652.76 L173,652.85 L174.5,652.98 L176,653.14 L177.5,653.33 L179,653.56 L180.5,653.81 L182,654.09 L183.5,654.39 L185,654.7 L186.5,655.04 L188,655.4 L189.5,655.76 L191,656.14 L192.5,656.53 L194,656.92 L195.5,657.32 L197,657.72 L198.5,658.11 L200,658.51 L201.5,658.9 L203,659.28 L204.5,659.66 L206,660.04 L207.5,660.4 L209,660.76 L210.5,661.11 L212,661.46 L213.5,661.8 L215,662.12 L216.5,662.44 L218,662.76 L219.5,663.06 L221,663.35 L222.5,663.64 L224,663.91 L225.5,664.17 L227,664.42 L228.5,664.67 L230,664.9 L231.5,665.12 L233,665.32 L234.5,665.52 L236,665.7 L237.5,665.87 L239,666.02 L240.5,666.16 L242,666.29 L243.5,666.41 L245,666.51 L246.5,666.59 L248,666.66 L249.5,666.72 L251,666.75 L252.5,666.78 L254,666.78 L255.5,666.77 L257,666.75 L258.5,666.71 L260,666.66 L261.5,666.59 L263,666.51 L264.5,666.42 L266,666.31 L267.5,666.2 L269,666.07 L270.5,665.94 L272,665.79 L273.5,665.63 L275,665.47 L276.5,665.3 L278,665.12 L279.5,664.93 L281,664.73 L282.5,664.53 L284,664.33 L285.5,664.11 L287,663.9 L288.5,663.68 L290,663.45 L291.5,663.23 L293,663 L294.5,662.77 L296,662.53 L297.5,662.3 L299,662.06 L300.5,661.83 L302,661.6 L303.5,661.36 L305,661.13 L306.5,660.9 L308,660.68 L309.5,660.46 L311,660.24 L312.5,660.02 L314,659.81 L315.5,659.61 L317,659.41 L318.5,659.22 L320,659.03 L321.5,658.85 L323,658.68 L324.5,658.52 L326,658.37 L327.5,658.22 L329,658.09 L330.5,657.97 L332,657.86 L333.5,657.76 L335,657.67 L336.5,657.59 L338,657.53 L339.5,657.48 L341,657.45 L342.5,657.43 L344,657.42 L345.5,657.43 L347,657.46 L348.5,657.5 L350,657.55 L351.5,657.62 L353,657.71 L354.5,657.81 L356,657.92 L357.5,658.05 L359,658.2 L360.5,658.36 L362,658.53 L363.5,658.72 L365,658.92 L366.5,659.14 L368,659.37 L369.5,659.62 L371,659.88 L372.5,660.15 L374,660.44 L375.5,660.75 L377,661.06 L378.5,661.4 L380,661.74 L381.5,662.1 L383,662.48 L384.5,662.87 L386,663.27 L387.5,663.69 L389,664.12 L390.5,664.56 L392,665.02 L393.5,665.5 L395,665.98 L396.5,666.48 L398,667 L399.5,667.53 L401,668.09 L402.5,668.66 L404,669.25 L405.5,669.87 L407,670.52 L408.5,671.19 L410,671.89 L411.5,672.63 L413,673.4 L414.5,674.2 L416,675.04 L417.5,675.92 L419,676.84 L420.5,677.81 L422,678.82 L423.5,679.88 L425,680.98 L426.5,682.14 L428,683.35 L429.5,684.61 L431,685.93 L432.5,687.31 L434,688.74 L435.5,690.24 L437,691.8 L438.5,693.43 L440,695.13 L441.5,696.89 L443,698.73 L444.5,700.63 L446,702.62 L447.5,704.68 L449,706.82 L450.5,709.04 L452,711.34 L453.5,713.72 L455,716.2 L456.5,718.76 L458,721.41 L459.5,724.15 L461,726.98 L462.5,729.91 L464,732.94 L465.5,736.07 L467,739.3 L468.5,742.63 L470,746.07 L471.5,749.61 L473,753.26 L474.5,757.02 L476,760.9 L477.4,764.61" fill="none" stroke="#000" stroke-width="5.8" stroke-linejoin="round"/>
<path d="M191.85,650.05L208.15,666.35M191.85,666.35L208.15,650.05" stroke="#F9520B" stroke-width="4.5" fill="none"/>
<path d="M240.95,659.25L257.25,675.55M240.95,675.55L257.25,659.25" stroke="#F9520B" stroke-width="4.5" fill="none"/>
<path d="M295.35,653.35L311.65,669.65M295.35,669.65L311.65,653.35" stroke="#F9520B" stroke-width="4.5" fill="none"/>
<path d="M301.05,652.35L317.35,668.65M301.05,668.65L317.35,652.35" stroke="#F9520B" stroke-width="4.5" fill="none"/>
<path d="M307.25,651.85L323.55,668.15M307.25,668.15L323.55,651.85" stroke="#F9520B" stroke-width="4.5" fill="none"/>
<path d="M313.45,651.65L329.75,667.95M313.45,667.95L329.75,651.65" stroke="#F9520B" stroke-width="4.5" fill="none"/>
<path d="M350.25,650.15L366.55,666.45M350.25,666.45L366.55,650.15" stroke="#F9520B" stroke-width="4.5" fill="none"/>
<path d="M356.35,650.65L372.65,666.95M356.35,666.95L372.65,650.65" stroke="#F9520B" stroke-width="4.5" fill="none"/>
<path d="M365.85,652.45L382.15,668.75M365.85,668.75L382.15,652.45" stroke="#F9520B" stroke-width="4.5" fill="none"/>
<path d="M423.25,677.85L439.55,694.15M423.25,694.15L439.55,677.85" stroke="#F9520B" stroke-width="4.5" fill="none"/>
<path d="M441.45,700.45L457.75,716.75M441.45,716.75L457.75,700.45" stroke="#F9520B" stroke-width="4.5" fill="none"/>
<path d="M178.7,569.2L189.7,580.2M178.7,580.2L189.7,569.2" stroke="#F9520B" stroke-width="4.6" fill="none"/>
<text x="214.73" y="583.6" font-size="24" fill="#0a0a0a">LSQ point estimates</text>
<line x1="164.1" y1="606.2" x2="207.3" y2="606.2" stroke="#000" stroke-width="5"/>
<text x="218.56" y="615.6" font-size="24" fill="#0a0a0a">full prob. inference</text>
<text transform="translate(33.8,769.93) rotate(-90)" font-size="29" fill="#0a0a0a">prob. density</text>
<text x="110.89" y="879.7" font-size="29.3" fill="#0a0a0a">facilitation timeconstant,</text>
<g transform="translate(-466.6,0)" fill="none" stroke="#1a1a1a" stroke-linecap="round"><path d="M899.6,871.9 C900.8,869.6 902.3,868.2 904.8,868.0 L912.6,867.6" stroke-width="1.7"/><path d="M908.9,868.1 C907.6,871.6 906.2,874.8 905.4,877.6 C905.0,879.3 905.7,880.2 907.0,879.5" stroke-width="2.1"/></g>
<text x="444.81" y="892.4" font-size="24.2" fill="#0a0a0a">F</text>
<text x="461.65" y="875.5" font-size="25" fill="#0a0a0a">(s)</text>
<line x1="557.8" y1="578.1" x2="557.8" y2="800.75" stroke="#262626" stroke-width="1.6"/>
<line x1="557" y1="800" x2="938.9" y2="800" stroke="#262626" stroke-width="1.6"/>
<line x1="553.2" y1="779.3" x2="557.8" y2="779.3" stroke="#262626" stroke-width="1.5"/>
<line x1="553.2" y1="698.8" x2="557.8" y2="698.8" stroke="#262626" stroke-width="1.5"/>
<line x1="553.2" y1="618.3" x2="557.8" y2="618.3" stroke="#262626" stroke-width="1.5"/>
<line x1="557.8" y1="800" x2="557.8" y2="804.3" stroke="#262626" stroke-width="1.5"/>
<line x1="747.9" y1="800" x2="747.9" y2="804.3" stroke="#262626" stroke-width="1.5"/>
<line x1="938" y1="800" x2="938" y2="804.3" stroke="#262626" stroke-width="1.5"/>
<text x="507.13" y="627.9" font-size="26.5" fill="#0a0a0a">0.6</text>
<text x="506.74" y="708.4" font-size="26.5" fill="#0a0a0a">0.4</text>
<text x="507.29" y="788.9" font-size="26.5" fill="#0a0a0a">0.2</text>
<text x="552.63" y="830.9" font-size="26.5" fill="#0a0a0a">0</text>
<text x="739.87" y="830.9" font-size="26.5" fill="#0a0a0a">1</text>
<text x="930.63" y="830.9" font-size="26.5" fill="#0a0a0a">2</text>
<path d="M563.4,799 C564.6,796.27 567.68,789.8 570.6,782.6 C573.52,775.4 577.47,764.73 580.9,755.8 C584.33,746.87 587.78,737.92 591.2,729 C594.62,720.08 597.98,710.87 601.4,702.3 C604.82,693.73 608.27,684.97 611.7,677.6 C615.13,670.23 618.57,663.75 622,658.1 C625.43,652.45 629.22,647.23 632.3,643.7 C635.38,640.17 636.72,638.47 640.5,636.9 C644.28,635.33 650.08,634.87 655,634.3 C659.92,633.73 665.22,633.62 670,633.5 C674.78,633.38 678.7,633.13 683.7,633.6 C688.7,634.07 692.93,635.1 700,636.3 C707.07,637.5 715.72,639.15 726.1,640.8 C736.48,642.45 750.25,644.48 762.3,646.2 C774.35,647.92 786.35,649.68 798.4,651.1 C810.45,652.52 824.05,653.75 834.6,654.7 C845.15,655.65 855.47,656.15 861.7,656.8 C867.93,657.45 868.57,657.68 872,658.6 C875.43,659.52 879.3,660.82 882.3,662.3 C885.3,663.78 887.52,665.52 890,667.5 C892.48,669.48 894.78,671.37 897.2,674.2 C899.62,677.03 902.02,680.53 904.5,684.5 C906.98,688.47 909.6,693.33 912.1,698 C914.6,702.67 917.02,707.53 919.5,712.5 C921.98,717.47 924.75,722.83 927,727.8 C929.25,732.77 931.02,737.35 933,742.3 C934.98,747.25 937.92,754.97 938.9,757.5" fill="none" stroke="#000" stroke-width="5.8" stroke-linejoin="round"/>
<path d="M635.35,627.35L651.65,643.65M635.35,643.65L651.65,627.35" stroke="#F9520B" stroke-width="4.5" fill="none"/>
<path d="M638.35,625.35L654.65,641.65M638.35,641.65L654.65,625.35" stroke="#F9520B" stroke-width="4.5" fill="none"/>
<path d="M641.35,628.35L657.65,644.65M641.35,644.65L657.65,628.35" stroke="#F9520B" stroke-width="4.5" fill="none"/>
<path d="M644.35,625.85L660.65,642.15M644.35,642.15L660.65,625.85" stroke="#F9520B" stroke-width="4.5" fill="none"/>
<path d="M647.35,627.85L663.65,644.15M647.35,644.15L663.65,627.85" stroke="#F9520B" stroke-width="4.5" fill="none"/>
<path d="M650.35,625.35L666.65,641.65M650.35,641.65L666.65,625.35" stroke="#F9520B" stroke-width="4.5" fill="none"/>
<path d="M653.35,628.35L669.65,644.65M653.35,644.65L669.65,628.35" stroke="#F9520B" stroke-width="4.5" fill="none"/>
<path d="M656.35,625.85L672.65,642.15M656.35,642.15L672.65,625.85" stroke="#F9520B" stroke-width="4.5" fill="none"/>
<path d="M659.35,627.85L675.65,644.15M659.35,644.15L675.65,627.85" stroke="#F9520B" stroke-width="4.5" fill="none"/>
<path d="M662.35,626.35L678.65,642.65M662.35,642.65L678.65,626.35" stroke="#F9520B" stroke-width="4.5" fill="none"/>
<path d="M673.55,626.65L689.85,642.95M673.55,642.95L689.85,626.65" stroke="#F9520B" stroke-width="4.5" fill="none"/>
<text x="566.07" y="879.9" font-size="29.3" fill="#0a0a0a">depression timeconstant,</text>
<g transform="translate(0,0)" fill="none" stroke="#1a1a1a" stroke-linecap="round"><path d="M899.6,871.9 C900.8,869.6 902.3,868.2 904.8,868.0 L912.6,867.6" stroke-width="1.7"/><path d="M908.9,868.1 C907.6,871.6 906.2,874.8 905.4,877.6 C905.0,879.3 905.7,880.2 907.0,879.5" stroke-width="2.1"/></g>
<text x="911.41" y="892.6" font-size="24.2" fill="#0a0a0a">D</text>
<text x="928.75" y="875.5" font-size="25" fill="#0a0a0a">(s)</text>
<line x1="1022" y1="578.1" x2="1022" y2="800.75" stroke="#262626" stroke-width="1.7"/>
<line x1="1021.2" y1="800" x2="1401.9" y2="800" stroke="#262626" stroke-width="1.6"/>
<line x1="1017.2" y1="757.15" x2="1022" y2="757.15" stroke="#262626" stroke-width="1.5"/>
<line x1="1017.2" y1="714.7" x2="1022" y2="714.7" stroke="#262626" stroke-width="1.5"/>
<line x1="1017.2" y1="672.25" x2="1022" y2="672.25" stroke="#262626" stroke-width="1.5"/>
<line x1="1017.2" y1="629.8" x2="1022" y2="629.8" stroke="#262626" stroke-width="1.5"/>
<line x1="1022" y1="800" x2="1022" y2="804.3" stroke="#262626" stroke-width="1.5"/>
<line x1="1212" y1="800" x2="1212" y2="804.3" stroke="#262626" stroke-width="1.5"/>
<line x1="1402" y1="800" x2="1402" y2="804.3" stroke="#262626" stroke-width="1.5"/>
<text x="991.79" y="639.4" font-size="26.5" fill="#0a0a0a">2</text>
<text x="969.47" y="681.85" font-size="26.5" fill="#0a0a0a">1.5</text>
<text x="991.76" y="724.3" font-size="26.5" fill="#0a0a0a">1</text>
<text x="969.47" y="766.75" font-size="26.5" fill="#0a0a0a">0.5</text>
<text x="1017.53" y="830.9" font-size="26.5" fill="#0a0a0a">0</text>
<text x="1194.22" y="830.9" font-size="26.5" fill="#0a0a0a">0.5</text>
<text x="1391.57" y="830.9" font-size="26.5" fill="#0a0a0a">1</text>
<path d="M1022.5,799.63 L1024,799.64 L1025.5,799.64 L1027,799.64 L1028.5,799.63 L1030,799.62 L1031.5,799.61 L1033,799.59 L1034.5,799.56 L1036,799.53 L1037.5,799.5 L1039,799.46 L1040.5,799.42 L1042,799.37 L1043.5,799.31 L1045,799.25 L1046.5,799.18 L1048,799.11 L1049.5,799.03 L1051,798.94 L1052.5,798.85 L1054,798.75 L1055.5,798.65 L1057,798.54 L1058.5,798.42 L1060,798.29 L1061.5,798.16 L1063,798.02 L1064.5,797.87 L1066,797.71 L1067.5,797.55 L1069,797.37 L1070.5,797.19 L1072,797 L1073.5,796.81 L1075,796.6 L1076.5,796.38 L1078,796.16 L1079.5,795.93 L1081,795.69 L1082.5,795.43 L1084,795.17 L1085.5,794.9 L1087,794.62 L1088.5,794.33 L1090,794.03 L1091.5,793.72 L1093,793.4 L1094.5,793.07 L1096,792.73 L1097.5,792.38 L1099,792.01 L1100.5,791.64 L1102,791.25 L1103.5,790.86 L1105,790.45 L1106.5,790.03 L1108,789.59 L1109.5,789.15 L1111,788.69 L1112.5,788.21 L1114,787.71 L1115.5,787.2 L1117,786.66 L1118.5,786.09 L1120,785.5 L1121.5,784.88 L1123,784.23 L1124.5,783.55 L1126,782.83 L1127.5,782.08 L1129,781.29 L1130.5,780.46 L1132,779.59 L1133.5,778.68 L1135,777.72 L1136.5,776.72 L1138,775.66 L1139.5,774.56 L1141,773.4 L1142.5,772.19 L1144,770.92 L1145.5,769.6 L1147,768.21 L1148.5,766.76 L1150,765.25 L1151.5,763.68 L1153,762.03 L1154.5,760.32 L1156,758.54 L1157.5,756.69 L1159,754.77 L1160.5,752.8 L1162,750.75 L1163.5,748.65 L1165,746.49 L1166.5,744.27 L1168,741.99 L1169.5,739.65 L1171,737.26 L1172.5,734.82 L1174,732.33 L1175.5,729.79 L1177,727.2 L1178.5,724.56 L1180,721.88 L1181.5,719.15 L1183,716.38 L1184.5,713.57 L1186,710.73 L1187.5,707.84 L1189,704.91 L1190.5,701.96 L1192,698.96 L1193.5,695.94 L1195,692.88 L1196.5,689.8 L1198,686.68 L1199.5,683.54 L1201,680.38 L1202.5,677.19 L1204,673.98 L1205.5,670.76 L1207,667.52 L1208.5,664.28 L1210,661.04 L1211.5,657.81 L1213,654.6 L1214.5,651.41 L1216,648.24 L1217.5,645.1 L1219,642.01 L1220.5,638.96 L1222,635.96 L1223.5,633.02 L1225,630.15 L1226.5,627.34 L1228,624.61 L1229.5,621.97 L1231,619.41 L1232.5,616.95 L1234,614.59 L1235.5,612.34 L1237,610.2 L1238.5,608.18 L1240,606.28 L1241.5,604.52 L1243,602.89 L1244.5,601.39 L1246,600.02 L1247.5,598.78 L1249,597.65 L1250.5,596.66 L1252,595.78 L1253.5,595.02 L1255,594.38 L1256.5,593.86 L1258,593.45 L1259.5,593.15 L1261,592.96 L1262.5,592.88 L1264,592.91 L1265.5,593.04 L1267,593.28 L1268.5,593.61 L1270,594.05 L1271.5,594.59 L1273,595.22 L1274.5,595.95 L1276,596.77 L1277.5,597.68 L1279,598.68 L1280.5,599.76 L1282,600.94 L1283.5,602.19 L1285,603.53 L1286.5,604.95 L1288,606.45 L1289.5,608.02 L1291,609.67 L1292.5,611.4 L1294,613.19 L1295.5,615.06 L1297,616.99 L1298.5,618.99 L1300,621.05 L1301.5,623.18 L1303,625.37 L1304.5,627.62 L1306,629.92 L1307.5,632.28 L1309,634.69 L1310.5,637.16 L1312,639.68 L1313.5,642.24 L1315,644.85 L1316.5,647.51 L1318,650.21 L1319.5,652.95 L1321,655.72 L1322.5,658.52 L1324,661.34 L1325.5,664.19 L1327,667.04 L1328.5,669.91 L1330,672.78 L1331.5,675.66 L1333,678.53 L1334.5,681.39 L1336,684.24 L1337.5,687.07 L1339,689.88 L1340.5,692.66 L1342,695.41 L1343.5,698.12 L1345,700.81 L1346.5,703.46 L1348,706.08 L1349.5,708.66 L1351,711.21 L1352.5,713.72 L1354,716.2 L1355.5,718.65 L1357,721.05 L1358.5,723.42 L1360,725.75 L1361.5,728.05 L1363,730.3 L1364.5,732.52 L1366,734.7 L1367.5,736.84 L1369,738.95 L1370.5,741.02 L1372,743.06 L1373.5,745.07 L1375,747.06 L1376.5,749.02 L1378,750.95 L1379.5,752.87 L1381,754.77 L1382.5,756.66 L1384,758.53 L1385.5,760.39 L1387,762.24 L1388.5,764.08 L1390,765.92 L1391.5,767.75 L1393,769.59 L1394.5,771.43 L1396,773.27 L1397.5,775.12 L1399,776.98 L1400.5,778.84 L1401.7,780.35" fill="none" stroke="#000" stroke-width="5.8" stroke-linejoin="round"/>
<path d="M1256.35,586.35L1272.65,602.65M1256.35,602.65L1272.65,586.35" stroke="#F9520B" stroke-width="4.5" fill="none"/>
<path d="M1259.35,587.85L1275.65,604.15M1259.35,604.15L1275.65,587.85" stroke="#F9520B" stroke-width="4.5" fill="none"/>
<path d="M1262.35,586.85L1278.65,603.15M1262.35,603.15L1278.65,586.85" stroke="#F9520B" stroke-width="4.5" fill="none"/>
<path d="M1265.35,588.35L1281.65,604.65M1265.35,604.65L1281.65,588.35" stroke="#F9520B" stroke-width="4.5" fill="none"/>
<text x="1095.64" y="879.8" font-size="29.5" fill="#0a0a0a">release prob., P</text>
<text x="1304.02" y="892.7" font-size="23.8" fill="#0a0a0a">rel</text></svg></body></html>
